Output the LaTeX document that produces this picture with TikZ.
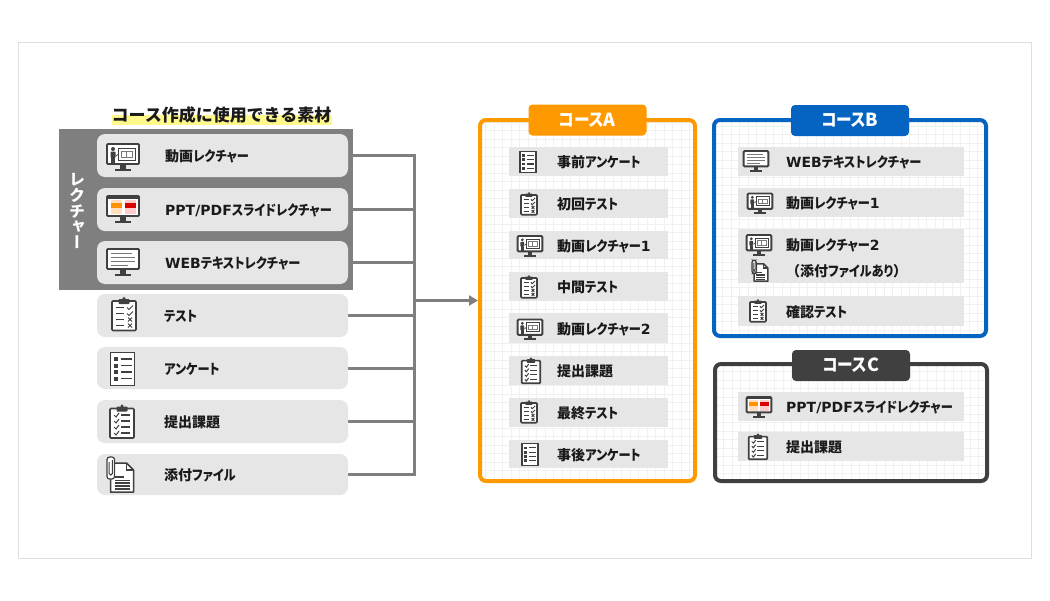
\documentclass[tikz,border=0pt]{standalone}
\usepackage{fontspec}
\usetikzlibrary{arrows.meta}
\setmainfont{Noto Sans CJK JP}
\newfontfamily\kn[FakeStretch=0.87,RawFeature=+palt]{Noto Sans CJK JP}
\newfontfamily\vjp[RawFeature=+vert]{Noto Sans CJK JP}
\newfontfamily\lt{DejaVu Sans}
\newcommand{\K}[1]{{\kn #1}}
\newcommand{\Lt}[1]{{\lt\fontsize{14}{15}\selectfont #1}}
\definecolor{ink}{HTML}{1A1A1A}
\definecolor{icon}{HTML}{404040}
\definecolor{barfill}{HTML}{E7E6E6}
\definecolor{linegray}{HTML}{7F7F7F}
\definecolor{corA}{HTML}{FF9900}
\definecolor{corB}{HTML}{0563C1}
\definecolor{corC}{HTML}{404040}
\definecolor{gridc}{HTML}{F1F1F1}
\pgfdeclarelayer{bg}\pgfdeclarelayer{conn}\pgfdeclarelayer{dark}
\pgfsetlayers{bg,conn,dark,main}
\newcommand{\monbase}{%
   \draw[icon,line width=1.9pt,fill=white,rounded corners=1pt] (-16,-13) rectangle (16,7);
   \fill[icon] (-3,8) rectangle (3,11.5);
   \fill[icon] (-8,11.5) rectangle (8,14);}
\newcommand{\clipboardbase}{%
   \draw[icon,line width=1.7pt,fill=white,rounded corners=1pt] (-12,-13.5) rectangle (12,16);
   \fill[icon,rounded corners=.8pt] (-5.5,-15.5) rectangle (5.5,-10.5);
   \fill[icon] (0,-16) circle (1.6);}
\tikzset{
 x=1pt,y=-1pt,
 itembar/.style={fill=barfill,rounded corners=8pt,inner sep=0pt},
 rowbar/.style={fill=barfill,inner sep=0pt},
 lbl/.style={text=ink,font=\fontsize{14}{16}\selectfont\bfseries,inner sep=0pt},
 connline/.style={draw=linegray,line width=3pt},
 card/.style={draw=#1,line width=4pt,fill=white,rounded corners=6pt,inner sep=0pt,
   path picture={\draw[gridc,line width=.5pt,step=8.5pt] (path picture bounding box.south west) grid (path picture bounding box.north east);}},
 tabn/.style={fill=#1,rounded corners=4pt,text=white,inner sep=0pt,minimum width=118pt,minimum height=31pt,font=\fontsize{18}{20}\selectfont\bfseries},
 monvideo/.pic={
   \monbase
   \fill[icon] (-10,-8) circle (2);
   \fill[icon,rounded corners=.8pt] (-12.5,-5.5) rectangle (-7.5,1);
   \fill[icon] (-11.8,1) rectangle (-8.2,6);
   \draw[icon,line width=.7pt] (-5,-9) rectangle (12,3);
   \draw[icon!70,line width=.7pt] (-2,-6) rectangle (9,0) (3.5,-6) -- (3.5,0);
   \draw[icon,line width=.7pt] (-7,-1) -- (-4.5,-3);
 },
 monppt/.pic={
   \monbase
   \fill[icon] (-16,-13) rectangle (16,-10);
   \fill[orange!25] (-12.5,-9) rectangle (-1.5,5);
   \fill[orange!85!yellow] (-12.5,-6) rectangle (-1.5,-1);
   \fill[red!20] (1.5,-9) rectangle (12.5,5);
   \fill[red!85!black] (1.5,-6) rectangle (12.5,-1);
 },
 monweb/.pic={
   \monbase
   \draw[icon!70,line width=.9pt] (-12,-9) -- (9,-9) (-12,-5) -- (12,-5) (-12,-1) -- (12,-1) (-12,3) -- (5,3);
 },
 cliptest/.pic={
   \clipboardbase
   \draw[icon,line width=1.1pt] (-8,-7) -- (0,-7) (-8,-1) -- (0,-1) (-8,5) -- (0,5) (-8,11) -- (0,11);
   \draw[icon,line width=1pt] (3,-7) -- (5,-5) -- (9,-9) (3,-1) -- (5,1) -- (9,-3)
     (4,3) -- (8,7) (8,3) -- (4,7) (4,9) -- (8,13) (8,9) -- (4,13);
 },
 clipsub/.pic={
   \clipboardbase
   \draw[icon,line width=1.1pt] (-1,-7) -- (8,-7) (-1,-1) -- (8,-1) (-1,5) -- (8,5) (-1,11) -- (8,11);
   \draw[icon,line width=1pt] (-8,-7) -- (-6,-5) -- (-3,-9) (-8,-1) -- (-6,1) -- (-3,-3)
     (-8,5) -- (-6,7) -- (-3,3) (-8,11) -- (-6,13) -- (-3,9);
 },
 listicon/.pic={
   \draw[icon,line width=1.2pt,fill=white] (-12,-16.5) rectangle (12,16.5);
   \foreach \yy in {-10,-3.5,3,9.5}{
     \fill[icon] (-9,\yy-2) rectangle (-5,\yy+2);
     \draw[icon,line width=1.1pt] (-2,\yy) -- (9,\yy);
   }
 },
 attachicon/.pic={
   \draw[icon,line width=1.5pt,fill=white,line join=round] (-10,-12) -- (6,-12) -- (13,-5) -- (13,17) -- (-10,17) -- cycle;
   \draw[icon,line width=1.1pt] (6,-12) -- (6,-5) -- (13,-5);
   \fill[icon] (-6,1) rectangle (3,2.6);
   \foreach \yy in {4.6,7.4,10.2,13}{\fill[icon] (-6,\yy) rectangle (9,\yy+1.6);}
   \draw[icon,line width=1.2pt,fill=white,rounded corners=2.6pt] (-13.5,-18) rectangle (-6,4);
   \draw[icon,line width=1pt,rounded corners=1.5pt] (-11.3,-13) -- (-11.3,0) -- (-8.2,0) -- (-8.2,-15);
 },
}
\newcommand{\mkrow}[8]{%
 \pgfmathsetmacro\mkx{(#3+#5)/2}\pgfmathsetmacro\mky{(#4+#6)/2}%
 \pgfmathsetmacro\mkw{#5-#3}\pgfmathsetmacro\mkh{#6-#4}%
 \node[#1,minimum width=\mkw pt,minimum height=\mkh pt] (#2) at (\mkx,\mky) {};%
 \node[lbl,anchor=west] (#2t) at (#7,\mky+1) {#8};}
\newcommand{\Kv}{\K{レクチャー}}
\begin{document}
\begin{tikzpicture}
\useasboundingbox (0,0) rectangle (1050,600);
\begin{pgfonlayer}{bg}
\fill[white] (0,0) rectangle (1050,600);
\draw[gray!25,line width=.8pt] (18,42) rectangle (1031,558);
\fill[yellow!45] (112,115) rectangle (332,125);
\end{pgfonlayer}
\node[text=ink,inner sep=0pt,font=\fontsize{17}{19}\selectfont\bfseries] (title) at (221.5,115) {コース作成に使用できる素材};
\begin{pgfonlayer}{dark}
\node[fill=linegray,inner sep=0pt,minimum width=294pt,minimum height=161pt] (lect) at (206,209.5) {};
\end{pgfonlayer}
\node[text=white,inner sep=0pt,align=center,font=\vjp\fontsize{16}{15.6}\selectfont\bfseries] (lectt) at (77,211) {レ\\ク\\チ\\ャ\\ー};
% left items
\mkrow{itembar}{i1}{97}{134}{348}{177}{165}{動画\Kv}
\mkrow{itembar}{i2}{97}{188}{348}{231}{165}{\Lt{PPT/PDF}\K{スライドレクチャー}}
\mkrow{itembar}{i3}{97}{241}{348}{284}{165}{\Lt{WEB}\K{テキストレクチャー}}
\mkrow{itembar}{i4}{97}{294}{348}{337}{164}{\K{テスト}}
\mkrow{itembar}{i5}{97}{347}{348}{389}{164}{\K{アンケート}}
\mkrow{itembar}{i6}{97}{400}{348}{443}{164}{提出課題}
\mkrow{itembar}{i7}{97}{454}{348}{495}{164}{添付\K{ファイル}}
\pic at (123,157) {monvideo};
\pic at (123,209) {monppt};
\pic at (123,262) {monweb};
\pic at (124,314.5) {cliptest};
\pic at (122.5,369) {listicon};
\pic at (122,422) {clipsub};
\pic at (120.5,475) {attachicon};
% course frames
\begin{pgfonlayer}{bg}
\node[card=corA,minimum width=215pt,minimum height=361pt] (A) at (587.5,300.5) {};
\node[card=corB,minimum width=272pt,minimum height=216pt] (B) at (850,228) {};
\node[card=corC,minimum width=272pt,minimum height=117pt] (C) at (851,422.5) {};
\end{pgfonlayer}
\node[tabn=corA] (tabA) at (587.5,120) {\K{コース}A};
\node[tabn=corB] (tabB) at (850,120.5) {\K{コース}B};
\node[tabn=corC] (tabC) at (851,365.5) {\K{コース}C};
% course A
\mkrow{rowbar}{a1}{509}{147}{668}{176}{557}{事前\K{アンケート}}
\mkrow{rowbar}{a2}{509}{189}{668}{218}{557}{初回\K{テスト}}
\mkrow{rowbar}{a3}{509}{231}{668}{259}{557}{動画\Kv\Lt{1}}
\mkrow{rowbar}{a4}{509}{272}{668}{301}{557}{中間\K{テスト}}
\mkrow{rowbar}{a5}{509}{313}{668}{343}{557}{動画\Kv\Lt{2}}
\mkrow{rowbar}{a6}{509}{356}{668}{385}{557}{提出課題}
\mkrow{rowbar}{a7}{509}{398}{668}{427}{557}{最終\K{テスト}}
\mkrow{rowbar}{a8}{509}{440}{668}{468}{557}{事後\K{アンケート}}
\pic[scale=.66] at (528,162) {listicon};
\pic[scale=.67] at (529,204) {cliptest};
\pic[scale=.77] at (530,246) {monvideo};
\pic[scale=.67] at (529,287) {cliptest};
\pic[scale=.77] at (530,329.5) {monvideo};
\pic[scale=.77] at (531,371) {clipsub};
\pic[scale=.67] at (529,412) {cliptest};
\pic[scale=.66] at (530,454.5) {listicon};
% course B
\mkrow{rowbar}{b1}{738}{147}{964}{176}{786}{\Lt{WEB}\K{テキストレクチャー}}
\mkrow{rowbar}{b2}{738}{188}{964}{217}{786}{動画\Kv\Lt{1}}
\node[rowbar,minimum width=226pt,minimum height=54pt] (b3) at (851,256) {};
\node[lbl,anchor=west] (b3t) at (786,245.5) {動画\Kv\Lt{2}};
\node[lbl,anchor=west] (b3u) at (786,271) {（添付\K{ファイル}\K{あり}）};
\mkrow{rowbar}{b4}{738}{296}{964}{326}{786}{確認\K{テスト}}
\pic[scale=.77] at (756,161) {monweb};
\pic[scale=.77] at (760,203.5) {monvideo};
\pic[scale=.77] at (759,245) {monvideo};
\pic[scale=.6] at (760,271) {attachicon};
\pic[scale=.67] at (758,311) {cliptest};
% course C
\mkrow{rowbar}{c1}{738}{392}{964}{421}{786}{\Lt{PPT/PDF}\K{スライドレクチャー}}
\mkrow{rowbar}{c2}{738}{432}{964}{461}{786}{提出課題}
\pic[scale=.77] at (759,407) {monppt};
\pic[scale=.77] at (758,447) {clipsub};
% connectors
\coordinate (bus) at (414,300.5);
\begin{pgfonlayer}{conn}
\foreach \n in {i1,i2,i3,i4,i5,i6,i7}{\draw[connline] (\n.east) -| (bus);}
\draw[connline,-{Triangle[length=9pt,width=10pt]}] (bus) -- (A.west |- bus);
\end{pgfonlayer}
\end{tikzpicture}
\end{document}
